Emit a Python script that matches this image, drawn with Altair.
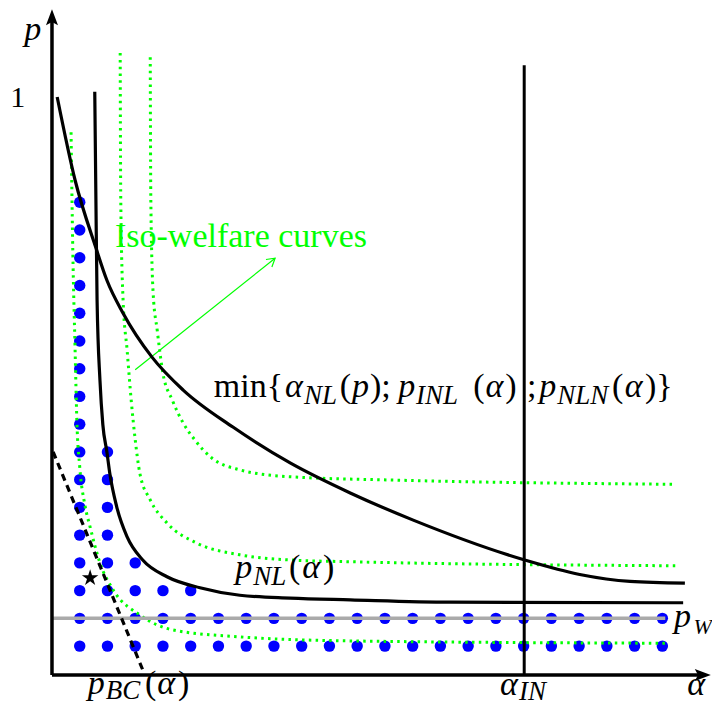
import altair as alt
import pandas as pd

# ---------------- data (alpha on x, p on y; p = 1 at the "1" tick) ----------------
X_DOMAIN = [-0.0761, 1.1419]
Y_DOMAIN = [-0.0536, 1.1540]

# min{alpha_NL(p); p_INL(alpha); p_NLN(alpha)}
MIN_A = [0.009, 0.040, 0.076, 0.095, 0.123, 0.173, 0.227, 0.313, 0.412, 0.516, 0.625, 0.818, 0.913, 1.000, 1.095]
MIN_P = [1.000, 0.856, 0.739, 0.683, 0.626, 0.550, 0.493, 0.429, 0.367, 0.315, 0.268, 0.199, 0.174, 0.162, 0.159]

# p_NL(alpha)
NL_A = [0.074, 0.076, 0.078, 0.083, 0.088, 0.095, 0.100, 0.112, 0.130, 0.157, 0.199, 0.256, 0.325, 0.412, 0.516, 0.689, 1.092]
NL_P = [1.009, 0.822, 0.649, 0.510, 0.433, 0.386, 0.349, 0.291, 0.239, 0.199, 0.170, 0.151, 0.138, 0.133, 0.130, 0.126, 0.125]

# iso-welfare curves (green dotted)
ISO1_A = [0.033, 0.036, 0.040, 0.043, 0.048, 0.057, 0.066, 0.083, 0.106, 0.152, 0.209, 0.325, 0.516, 1.061]
ISO1_P = [0.939, 0.735, 0.562, 0.441, 0.360, 0.294, 0.256, 0.194, 0.147, 0.104, 0.078, 0.066, 0.059, 0.055]
ISO2_A = [0.118, 0.119, 0.123, 0.130, 0.137, 0.144, 0.152, 0.170, 0.199, 0.251, 0.325, 0.412, 0.516, 1.081]
ISO2_P = [1.076, 0.822, 0.649, 0.562, 0.476, 0.407, 0.349, 0.303, 0.263, 0.228, 0.208, 0.199, 0.196, 0.189]
ISO3_A = [0.170, 0.171, 0.175, 0.182, 0.192, 0.208, 0.227, 0.247, 0.277, 0.325, 0.412, 0.602, 1.074]
ISO3_P = [1.069, 0.822, 0.661, 0.597, 0.522, 0.476, 0.436, 0.407, 0.375, 0.355, 0.343, 0.337, 0.330]

ALPHA_IN = 0.817
ALPHA_IN_TOP = 1.055
P_W = 0.098
P_W_END = 1.061
P_BC_A = [0.002, 0.157]
P_BC_P = [0.386, 0.009]
STAR_A, STAR_P = 0.066, 0.168
ARROW_A = [0.144, 0.386]
ARROW_P = [0.528, 0.721]

# blue dot grid
DOT_ALPHA = [0.048, 0.096, 0.144, 0.192, 0.240, 0.288, 0.336, 0.384, 0.432, 0.480, 0.528,
             0.576, 0.624, 0.672, 0.720, 0.768, 0.816, 0.864, 0.912, 0.960, 1.008, 1.056]
DOT_P = [0.050, 0.098, 0.146, 0.194, 0.242, 0.290, 0.338, 0.386, 0.434,
         0.482, 0.530, 0.578, 0.626, 0.674, 0.722, 0.770, 0.818]
DOT_ROWS = [17, 8, 4, 3, 3] + [2] * 17

# text labels: text, alpha, p, font size, italic, colour
M, S = 34, 27
LABELS = [
    ("p", -0.048, 1.099, 34, True, "black"),
    ("1", -0.072, 0.983, 30, False, "black"),
    ("Iso-welfare curves", 0.109, 0.740, 34, False, "#00ff00"),
    ("min{", 0.280, 0.481, M, False, "black"),
    ("α", 0.403, 0.481, M, True, "black"),
    ("NL", 0.436, 0.469, S, True, "black"),
    ("(", 0.498, 0.481, M, False, "black"),
    ("p", 0.519, 0.481, M, True, "black"),
    (");", 0.550, 0.481, M, False, "black"),
    ("p", 0.599, 0.481, M, True, "black"),
    ("INL", 0.630, 0.469, S, True, "black"),
    ("(", 0.729, 0.481, M, False, "black"),
    ("α", 0.750, 0.481, M, True, "black"),
    (")", 0.784, 0.481, M, False, "black"),
    (";", 0.822, 0.481, M, False, "black"),
    ("p", 0.843, 0.481, M, True, "black"),
    ("NLN", 0.874, 0.469, S, True, "black"),
    ("(", 0.969, 0.481, M, False, "black"),
    ("α", 0.991, 0.481, M, True, "black"),
    (")}", 1.026, 0.481, M, False, "black"),
    ("p", 0.317, 0.168, M, True, "black"),
    ("NL", 0.348, 0.156, S, True, "black"),
    ("(", 0.410, 0.168, M, False, "black"),
    ("α", 0.433, 0.168, M, True, "black"),
    (")", 0.469, 0.168, M, False, "black"),
    ("p", 1.076, 0.083, M, True, "black"),
    ("W", 1.110, 0.071, 22, True, "black"),
    ("α", 0.775, -0.035, M, True, "black"),
    ("IN", 0.808, -0.044, S, True, "black"),
    ("α", 1.099, -0.035, M, True, "black"),
    ("p", 0.062, -0.033, M, True, "black"),
    ("BC", 0.093, -0.042, S, True, "black"),
    ("(", 0.161, -0.033, M, False, "black"),
    ("α", 0.182, -0.033, M, True, "black"),
    (")", 0.218, -0.033, M, False, "black"),
]

# ---------------- build tables ----------------
def curve(name, a, p):
    return pd.DataFrame({"a": a, "p": p, "curve": name, "i": list(range(len(a)))})

black_df = pd.concat([curve("min", MIN_A, MIN_P), curve("pNL", NL_A, NL_P)])
green_df = pd.concat([curve("iso1", ISO1_A, ISO1_P), curve("iso2", ISO2_A, ISO2_P),
                      curve("iso3", ISO3_A, ISO3_P)])

dots = []
for a, n in zip(DOT_ALPHA, DOT_ROWS):
    for p in DOT_P[:n]:
        dots.append({"a": a, "p": p})
dots_df = pd.DataFrame(dots)

lab_df = pd.DataFrame(LABELS, columns=["text", "a", "p", "size", "italic", "color"])

X = alt.X("a:Q", scale=alt.Scale(domain=X_DOMAIN, nice=False, zero=False), axis=None)
Y = alt.Y("p:Q", scale=alt.Scale(domain=Y_DOMAIN, nice=False, zero=False), axis=None)
X2 = alt.X2("a2:Q")
Y2 = alt.Y2("p2:Q")

def seg(a, p, a2, p2):
    return pd.DataFrame({"a": [a], "p": [p], "a2": [a2], "p2": [p2]})

dots_layer = alt.Chart(dots_df).mark_circle(color="#0000ff", opacity=1, size=130).encode(X, Y)

green_layer = alt.Chart(green_df).mark_line(
    color="#00ff00", strokeWidth=3, strokeDash=[2.5, 4.3], interpolate="monotone"
).encode(X, Y, detail="curve:N", order="i:Q")

arrow_line = alt.Chart(seg(ARROW_A[0], ARROW_P[0], ARROW_A[1], ARROW_P[1])).mark_rule(
    color="#00ff00", strokeWidth=1.2).encode(X, Y, X2, Y2)
arrow_head = alt.Chart(pd.DataFrame({"a": [ARROW_A[1]], "p": [ARROW_P[1]]})).mark_point(
    shape="M-0.6,1 L0,0 L0.6,1", filled=False, stroke="#00ff00", strokeWidth=1.2,
    size=250, angle=51.3, opacity=1).encode(X, Y)

pw_layer = alt.Chart(seg(0, P_W, P_W_END, P_W)).mark_rule(
    color="#aaaaaa", strokeWidth=3.5).encode(X, Y, X2, Y2)

black_layer = alt.Chart(black_df).mark_line(
    color="black", strokeWidth=3.2, interpolate="monotone"
).encode(X, Y, detail="curve:N", order="i:Q")

ain_layer = alt.Chart(seg(ALPHA_IN, 0, ALPHA_IN, ALPHA_IN_TOP)).mark_rule(
    color="black", strokeWidth=3).encode(X, Y, X2, Y2)

pbc_layer = alt.Chart(seg(P_BC_A[0], P_BC_P[0], P_BC_A[1], P_BC_P[1])).mark_rule(
    color="black", strokeWidth=3.2, strokeDash=[7, 5]).encode(X, Y, X2, Y2)

star_layer = alt.Chart(pd.DataFrame({"a": [STAR_A], "p": [STAR_P]})).mark_point(
    shape="M0,-1 L0.22,-0.3 L0.951,-0.309 L0.36,0.12 L0.588,0.809 L0,0.38 L-0.588,0.809 L-0.36,0.12 L-0.951,-0.309 L-0.22,-0.3 Z",
    filled=True, color="black", size=300, opacity=1).encode(X, Y)

axes_df = pd.DataFrame({"a": [0, 0], "p": [0, 0], "a2": [1.12, 0], "p2": [0, 1.13]})
axes_layer = alt.Chart(axes_df).mark_rule(color="black", strokeWidth=3.5).encode(X, Y, X2, Y2)
xhead = alt.Chart(pd.DataFrame({"a": [1.126], "p": [0]})).mark_point(
    shape="M1,0 L-1,0.75 L-0.6,0 L-1,-0.75 Z", filled=True, color="black", size=256, opacity=1
).encode(X, Y)
yhead = alt.Chart(pd.DataFrame({"a": [0], "p": [1.138]})).mark_point(
    shape="M0,-1 L0.75,1 L0,0.6 L-0.75,1 Z", filled=True, color="black", size=256, opacity=1
).encode(X, Y)

def text_layer(italic):
    return alt.Chart(lab_df[lab_df["italic"] == italic]).mark_text(
        font="Liberation Serif", align="left", baseline="alphabetic",
        fontStyle="italic" if italic else "normal"
    ).encode(X, Y, text="text:N",
             size=alt.Size("size:Q", scale=None),
             color=alt.Color("color:N", scale=None))

chart = alt.layer(
    dots_layer, green_layer, arrow_line, arrow_head, pw_layer, black_layer,
    ain_layer, pbc_layer, star_layer, axes_layer, xhead, yhead,
    text_layer(False), text_layer(True)
).properties(
    width=704, height=698, padding=0,
    autosize=alt.AutoSizeParams(type="none"),
    background="white"
).configure_view(stroke=None)

chart.save("out.html", embed_options={"renderer": "svg", "actions": False})
